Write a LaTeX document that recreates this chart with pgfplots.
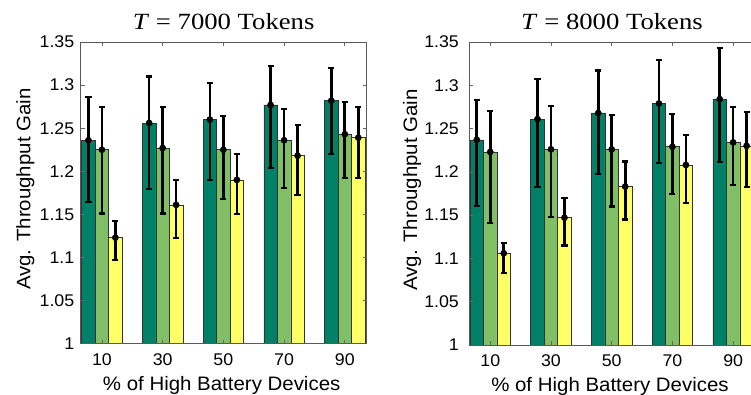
\documentclass[border=0pt]{standalone}
\usepackage{pgfplots}
\pgfplotsset{compat=1.18}
\usepackage{pgfplotstable}
\usepackage{fontspec}
\setmainfont{Liberation Sans}
\newfontfamily\lsans[FakeStretch=1.05]{Liberation Sans}
\newfontfamily\lserif[FakeStretch=1.15]{Liberation Serif}

\definecolor{sumA}{RGB}{0,128,102}
\definecolor{sumB}{RGB}{128,191,102}
\definecolor{sumC}{RGB}{255,255,102}

\pgfplotstableread{
g a ap am b bp bm c cp cm
1 1.236 0.050 0.072 1.225 0.050 0.074 1.123 0.019 0.026
2 1.256 0.054 0.077 1.227 0.048 0.076 1.161 0.029 0.038
3 1.260 0.042 0.070 1.225 0.039 0.057 1.190 0.030 0.040
4 1.277 0.045 0.073 1.236 0.036 0.055 1.218 0.036 0.046
5 1.282 0.038 0.062 1.243 0.037 0.051 1.239 0.036 0.047
}\tabA

\pgfplotstableread{
g a ap am b bp bm c cp cm
1 1.237 0.046 0.076 1.223 0.047 0.082 1.106 0.012 0.023
2 1.261 0.046 0.078 1.226 0.050 0.078 1.147 0.023 0.032
3 1.268 0.049 0.070 1.226 0.040 0.066 1.183 0.029 0.038
4 1.279 0.050 0.069 1.229 0.038 0.055 1.208 0.035 0.044
5 1.284 0.059 0.073 1.234 0.041 0.049 1.230 0.039 0.047
}\tabB

\pgfplotsset{
  panel/.style={
    scale only axis, width=214.5pt,
    xmin=0.65, xmax=5.36, ymin=1, ymax=1.35,
    xtick={1,2,3,4,5}, xticklabels={10,30,50,70,90},
    ytick={1,1.05,1.1,1.15,1.2,1.25,1.3,1.35},
    yticklabels={1,1.05,1.1,1.15,1.2,1.25,1.3,1.35},
    tick align=inside, major tick length=3pt,
    tick style={black!60, line width=0.5pt},
    axis line style={black!65, line width=0.7pt},
    xticklabel style={font=\lsans\fontsize{12.7}{14}\selectfont, inner sep=0pt, anchor=north, yshift=-7.3pt},
    yticklabel style={font=\lsans\fontsize{12.7}{14}\selectfont, inner sep=0pt, anchor=east, xshift=-4.6pt},
    title style={font=\lserif\fontsize{17.4}{20}\selectfont, anchor=base},
    xlabel style={font=\lsans\fontsize{14.6}{17}\selectfont, anchor=base},
    ylabel style={font=\lsans\fontsize{14.6}{17}\selectfont, anchor=base, rotate=0},
    xlabel={\% of High Battery Devices},
    ylabel={Avg. Throughput Gain},
    axis on top,
  },
  barA/.style={ybar, bar width=0.222, bar shift=0pt, fill=sumA, draw=black!80, line width=0.4pt},
  barB/.style={ybar, bar width=0.222, bar shift=0pt, fill=sumB, draw=black!80, line width=0.4pt},
  barC/.style={ybar, bar width=0.222, bar shift=0pt, fill=sumC, draw=black!80, line width=0.4pt},
  errs/.style={only marks, mark=*, mark size=2.3pt, black,
    error bars/.cd, y dir=both, y explicit,
    error bar style={line width=2pt, black},
    error mark options={rotate=90, line width=1.6pt, mark size=2.3pt, black}},
}

\begin{document}
\begin{tikzpicture}
\useasboundingbox (0,0) rectangle (563.25pt,296.25pt);

% ---------- panel (a) ----------
\begin{axis}[panel, at={(60.5pt,38.6pt)}, anchor=south west, height=226.1pt,
  title={\textit{T} = 7000 Tokens},
  title style={at={(axis description cs:0.5,1.014)}},
  xlabel style={at={(axis description cs:0.493,-0.1544)}},
  ylabel style={at={(axis description cs:-0.176,0.512)}},
]
\addplot[barA] table[x expr=\thisrow{g}-0.222, y=a] {\tabA};
\addplot[barB] table[x=g, y=b] {\tabA};
\addplot[barC] table[x expr=\thisrow{g}+0.222, y=c] {\tabA};
\addplot[errs] table[x expr=\thisrow{g}-0.222, y=a, y error plus=ap, y error minus=am] {\tabA};
\addplot[errs] table[x=g, y=b, y error plus=bp, y error minus=bm] {\tabA};
\addplot[errs] table[x expr=\thisrow{g}+0.222, y=c, y error plus=cp, y error minus=cm] {\tabA};
\node[anchor=base west, inner sep=0pt, font=\lsans\bfseries\fontsize{16.5}{18}\selectfont] at (axis description cs:-0.2717,-0.1476) {(a)};
\end{axis}

% ---------- panel (b) ----------
\begin{axis}[panel, at={(351.75pt,37.5pt)}, anchor=south west, height=227.25pt,
  title={\textit{T} = 8000 Tokens},
  title style={at={(axis description cs:0.5,1.014)}},
  xlabel style={at={(axis description cs:0.493,-0.1535)}},
  ylabel style={at={(axis description cs:-0.181,0.512)}},
  yticklabel style={xshift=-2.8pt},
]
\addplot[barA] table[x expr=\thisrow{g}-0.222, y=a] {\tabB};
\addplot[barB] table[x=g, y=b] {\tabB};
\addplot[barC] table[x expr=\thisrow{g}+0.222, y=c] {\tabB};
\addplot[errs] table[x expr=\thisrow{g}-0.222, y=a, y error plus=ap, y error minus=am] {\tabB};
\addplot[errs] table[x=g, y=b, y error plus=bp, y error minus=bm] {\tabB};
\addplot[errs] table[x expr=\thisrow{g}+0.222, y=c, y error plus=cp, y error minus=cm] {\tabB};
\node[anchor=base west, inner sep=0pt, font=\lsans\bfseries\fontsize{16.5}{18}\selectfont] at (axis description cs:-0.2308,-0.142) {(b)};
\end{axis}
\end{tikzpicture}
\end{document}
